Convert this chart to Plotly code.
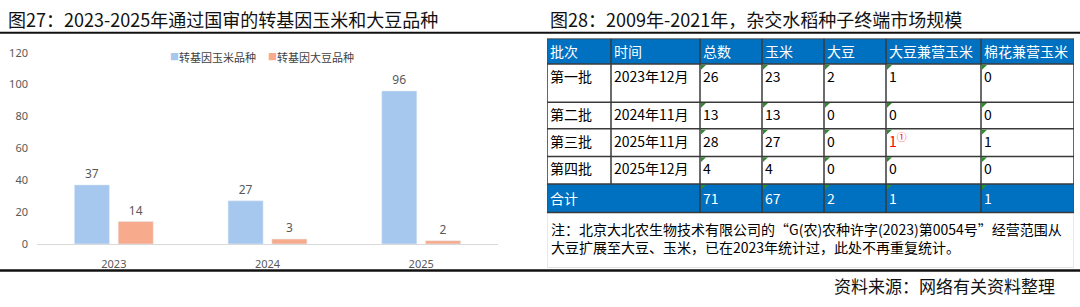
import plotly.graph_objects as go

# ---------------- data ----------------
years = ["2023", "2024", "2025"]
corn_varieties = [37, 27, 96]
soy_varieties = [14, 3, 2]
series_names = ["转基因玉米品种", "转基因大豆品种"]
y_ticks = [0, 20, 40, 60, 80, 100, 120]

table_header = ["批次", "时间", "总数", "玉米", "大豆", "大豆兼营玉米", "棉花兼营玉米"]
batches = ["第一批", "第二批", "第三批", "第四批"]
times = ["2023年12月", "2024年11月", "2025年11月", "2025年12月"]
total_col = [26, 13, 28, 4]
corn_col = [23, 13, 27, 4]
soy_col = [2, 0, 0, 0]
soy_corn_col = [1, 0, 1, 0]
soy_corn_marks = ["", "", "①", ""]
cotton_corn_col = [0, 0, 1, 0]
sum_label = "合计"
sums = [71, 67, 2, 1, 1]
note_lines = [
    "注：北京大北农生物技术有限公司的“G(农)农种许字(2023)第0054号”经营范围从",
    "大豆扩展至大豆、玉米，已在2023年统计过，此处不再重复统计。",
]
title_left = "图27：2023-2025年通过国审的转基因玉米和大豆品种"
title_right = "图28：2009年-2021年，杂交水稻种子终端市场规模"
source_text = "资料来源：网络有关资料整理"

# ---------------- layout constants ----------------
W, H = 1080, 307
BLUE = "#A6C8EE"
ORANGE = "#F7AA8C"
TBL_BLUE = "#0070C0"
GRAY = "#595959"
CJK = "Noto Sans CJK SC"
TBL_FONT = "Liberation Sans Narrow, Noto Sans CJK SC"

col_widths = [64, 89, 62, 62, 62, 95, 93]
row_heights = [27, 40, 28, 29, 29, 30]
tbl_left, tbl_right, tbl_top, tbl_bottom = 547, 1074, 32, 273


def px(x):
    return x / W


def py(y):
    return 1 - y / H


col_edges = [0]
for w in col_widths:
    col_edges.append(col_edges[-1] + w)
row_edges = [0]
for h in row_heights:
    row_edges.append(row_edges[-1] + h)

fig = go.Figure()

fig.add_trace(go.Bar(
    x=years, y=corn_varieties, name=series_names[0], marker_color=BLUE,
    text=corn_varieties, textposition="outside", cliponaxis=False,
    textfont=dict(size=12, color=GRAY, family="Noto Sans"),
    xaxis="x", yaxis="y", showlegend=False,
))
fig.add_trace(go.Bar(
    x=years, y=soy_varieties, name=series_names[1], marker_color=ORANGE,
    text=soy_varieties, textposition="outside", cliponaxis=False,
    textfont=dict(size=12, color=GRAY, family="Noto Sans"),
    xaxis="x", yaxis="y", showlegend=False,
))

shapes = []
annotations = []

# legend (drawn as annotations)
legend_items = [(174.5, 177, series_names[0], BLUE), (272.5, 275, series_names[1], ORANGE)]
for sq_x, tx, name, color in legend_items:
    annotations.append(dict(x=px(sq_x), y=py(51), xref="paper", yref="paper", text="■",
                            showarrow=False, xanchor="center", yanchor="middle",
                            font=dict(size=9, color=color, family=CJK)))
    annotations.append(dict(x=px(tx), y=py(51), xref="paper", yref="paper", text=name,
                            showarrow=False, xanchor="left", yanchor="middle",
                            font=dict(size=11, color="#404040", family=CJK)))

# titles, source
annotations.append(dict(x=px(6), y=py(12), xref="paper", yref="paper", text=title_left,
                        showarrow=False, xanchor="left", yanchor="middle",
                        font=dict(size=18, color="#111111", family=CJK)))
annotations.append(dict(x=px(548), y=py(12), xref="paper", yref="paper", text=title_right,
                        showarrow=False, xanchor="left", yanchor="middle",
                        font=dict(size=18, color="#111111", family=CJK)))
annotations.append(dict(x=px(1057), y=py(292), xref="paper", yref="paper", text=source_text,
                        showarrow=False, xanchor="right", yanchor="middle",
                        font=dict(size=17, color="#111111", family=CJK)))

# separator lines
shapes.append(dict(type="line", xref="paper", yref="paper", x0=0, x1=1, y0=py(26), y1=py(26),
                   line=dict(color="#111111", width=2)))
shapes.append(dict(type="line", xref="paper", yref="paper", x0=0, x1=1, y0=py(276), y1=py(276),
                   line=dict(color="#111111", width=2.5)))

# ---------------- table ----------------
TX, TY = "x2", "y2"
# outer light box
shapes.append(dict(type="rect", xref=TX, yref=TY, x0=0, x1=col_edges[-1], y0=0,
                   y1=tbl_bottom - tbl_top, line=dict(color="#D4D4D4", width=1)))
# blue fills
shapes.append(dict(type="rect", xref=TX, yref=TY, x0=0, x1=col_edges[-1], y0=row_edges[0],
                   y1=row_edges[1], fillcolor=TBL_BLUE, line=dict(width=0), layer="below"))
shapes.append(dict(type="rect", xref=TX, yref=TY, x0=0, x1=col_edges[-1], y0=row_edges[-2],
                   y1=row_edges[-1], fillcolor=TBL_BLUE, line=dict(width=0), layer="below"))
LINE = dict(color="#3A3A3A", width=1.5)
for ry in row_edges:
    shapes.append(dict(type="line", xref=TX, yref=TY, x0=0, x1=col_edges[-1], y0=ry, y1=ry, line=LINE))
for i, cx in enumerate(col_edges):
    y_end = row_edges[-2] if i == 1 else row_edges[-1]
    shapes.append(dict(type="line", xref=TX, yref=TY, x0=cx, x1=cx, y0=0, y1=y_end, line=LINE))

# green corner markers on numeric cells
for r in range(1, len(row_heights)):
    for c in range(2, len(col_widths)):
        x0, y0 = col_edges[c] + 1, row_edges[r] + 1
        shapes.append(dict(type="path", xref=TX, yref=TY,
                           path=f"M {x0},{y0} L {x0 + 5},{y0} L {x0},{y0 + 5} Z",
                           fillcolor="#2E8B2E", line=dict(width=0)))


def cell_text(c, r, text, color="#000000", dy=12.5):
    annotations.append(dict(x=col_edges[c] + 1, y=row_edges[r] + dy, xref=TX, yref=TY, text=text,
                            showarrow=False, xanchor="left", yanchor="middle",
                            font=dict(size=14, color=color, family=TBL_FONT)))


for c, h in enumerate(table_header):
    cell_text(c, 0, h, "#FFFFFF", dy=13)

body_cols = [batches, times, total_col, corn_col, soy_col, soy_corn_col, cotton_corn_col]
for r in range(len(batches)):
    for c, col in enumerate(body_cols):
        txt = str(col[r])
        color = "#000000"
        if col is soy_corn_col and soy_corn_marks[r]:
            txt = f"{col[r]}<sup>{soy_corn_marks[r]}</sup>"
            color = "#FF0000"
        cell_text(c, r + 1, txt, color)

cell_text(0, len(row_heights) - 1, sum_label, "#FFFFFF", dy=15)
for i, v in enumerate(sums):
    cell_text(i + 2, len(row_heights) - 1, str(v), "#FFFFFF", dy=15)

annotations.append(dict(x=2, y=row_edges[-1] + 5, xref=TX, yref=TY, text="<br>".join(note_lines),
                        showarrow=False, xanchor="left", yanchor="top", align="left",
                        font=dict(size=14, color="#000000", family=TBL_FONT)))

fig.update_layout(
    width=W, height=H, margin=dict(l=0, r=0, t=0, b=0),
    paper_bgcolor="white", plot_bgcolor="white",
    barmode="group", bargap=0.43, bargroupgap=0.2,
    xaxis=dict(domain=[px(37), px(498)], showline=True, linecolor="#D9D9D9", linewidth=1,
               showgrid=False, zeroline=False, ticks="", ticklabelstandoff=10,
               tickfont=dict(size=11, color=GRAY, family="Noto Sans")),
    yaxis=dict(domain=[py(248), py(47)], range=[0, 120], tickvals=y_ticks, showgrid=False,
               zeroline=False, showline=False, ticks="", ticklabelstandoff=8,
               tickfont=dict(size=11, color=GRAY, family="Noto Sans")),
    xaxis2=dict(domain=[px(tbl_left), px(tbl_right)], range=[0, col_edges[-1]], visible=False,
                anchor="y2"),
    yaxis2=dict(domain=[py(tbl_bottom), py(tbl_top)], range=[tbl_bottom - tbl_top, 0],
                visible=False, anchor="x2"),
    shapes=shapes, annotations=annotations,
)

fig.write_html("out.html")
